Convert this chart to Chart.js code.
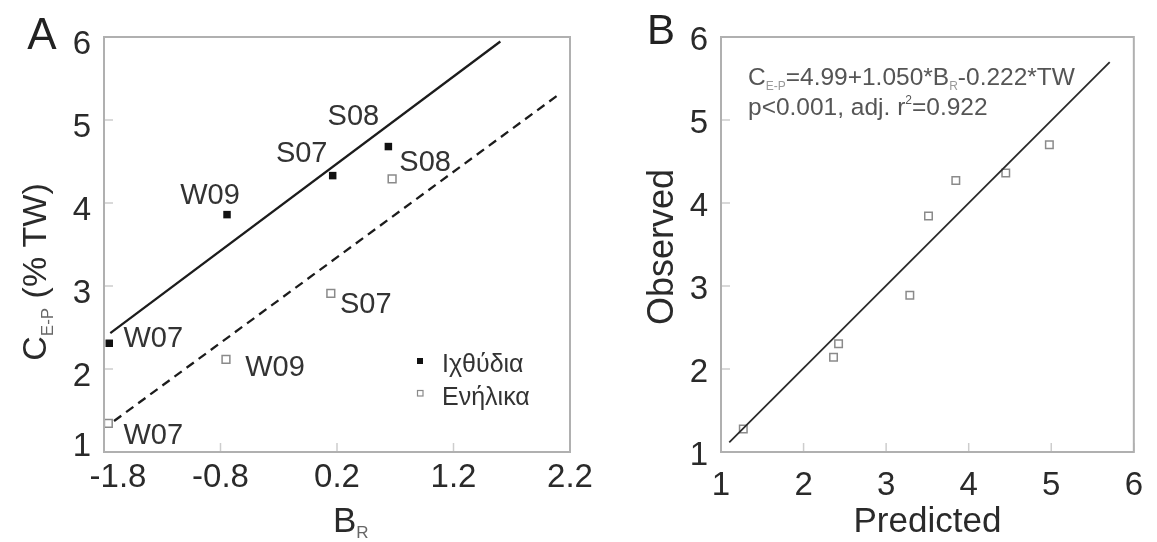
<!DOCTYPE html>
<html>
<head>
<meta charset="utf-8">
<script src="https://cdn.jsdelivr.net/npm/chart.js@4.4.0/dist/chart.umd.min.js"></script>
<style>
  html, body { margin: 0; padding: 0; background: #fff; }
  #wrap { position: relative; width: 1157px; height: 542px; overflow: hidden; }
  canvas { position: absolute; top: 0; }
  #chartA { left: 0; }
  #chartB { left: 600px; }
</style>
</head>
<body>
<div id="wrap">
  <canvas id="chartA" width="600" height="542"></canvas>
  <canvas id="chartB" width="557" height="542"></canvas>
</div>
<script>
// --- data ---
const seasons = ['W07', 'W09', 'S07', 'S08'];

// panel A: C(E-P) against B(R)
const larvaeBR = [-1.755, -0.744, 0.163, 0.641];
const larvaeC = [2.31, 3.86, 4.33, 4.68];
const adultBR = [-1.763, -0.753, 0.147, 0.673];
const adultC = [1.346, 2.117, 2.91, 4.29];
const larvaeFitBR = [-1.746, 1.602];
const larvaeFitC = [2.432, 5.946];
const adultFitBR = [-1.714, 2.12];
const adultFitC = [1.373, 5.324];
const legendNames = ['Ιχθύδια', 'Ενήλικα'];
const xTicksA = [-1.8, -0.8, 0.2, 1.2, 2.2];
const yTicksA = [1, 2, 3, 4, 5, 6];

// panel B: observed against predicted
const predicted = [1.27, 2.363, 2.424, 3.287, 3.513, 3.844, 4.449, 4.977];
const observed = [1.278, 2.141, 2.303, 2.888, 3.842, 4.27, 4.361, 4.701];
const fitPredicted = [1.10, 5.708];
const fitObserved = [1.116, 5.697];
const xTicksB = [1, 2, 3, 4, 5, 6];
const yTicksB = [1, 2, 3, 4, 5, 6];

const FONT = '"Liberation Sans", Arial, sans-serif';
const TEXT = '#2a2a2a';

function pts(xs, ys) {
    return xs.map((x, i) => ({ x: x, y: ys[i] }));
}

// draws a run of text pieces (for subscripts / superscripts), centred or left aligned
function drawRich(ctx, parts, x, y, align) {
    let w = 0;
    parts.forEach(p => {
        ctx.font = p.size + 'px ' + FONT;
        p.w = ctx.measureText(p.t).width;
        w += p.w;
    });
    let cx = align === 'center' ? x - w / 2 : x;
    ctx.textAlign = 'left';
    ctx.textBaseline = 'alphabetic';
    parts.forEach(p => {
        ctx.font = p.size + 'px ' + FONT;
        ctx.fillStyle = p.color || TEXT;
        ctx.fillText(p.t, cx, y + (p.dy || 0));
        cx += p.w;
    });
}

function frame(chart, xTicks, yTicks) {
    const { ctx, chartArea: a, scales: { x, y } } = chart;
    ctx.save();
    ctx.strokeStyle = '#cdcdcd';
    ctx.lineWidth = 1.5;
    xTicks.forEach(v => {
        const px = x.getPixelForValue(v);
        ctx.beginPath(); ctx.moveTo(px, a.bottom); ctx.lineTo(px, a.bottom - 9); ctx.stroke();
    });
    yTicks.forEach(v => {
        const py = y.getPixelForValue(v);
        ctx.beginPath(); ctx.moveTo(a.left, py); ctx.lineTo(a.left + 9, py); ctx.stroke();
    });
    ctx.strokeStyle = '#b0b0b0';
    ctx.lineWidth = 2;
    ctx.strokeRect(a.left, a.top, a.right - a.left, a.bottom - a.top);
    ctx.restore();
}

function scaleOpts(min, max, tickVals, fmt, isX, size, pad, offset, show) {
    return {
        type: 'linear',
        min: min,
        max: max,
        grid: { display: false, drawTicks: false },
        border: { display: false },
        afterBuildTicks: s => { s.ticks = tickVals.map(v => ({ value: v })); },
        afterFit: s => { if (isX) s.height = size; else s.width = size; },
        ticks: {
            display: show,
            autoSkip: false,
            maxRotation: 0,
            color: TEXT,
            font: { family: FONT, size: 33 },
            padding: pad,
            labelOffset: offset,
            callback: v => fmt(v)
        }
    };
}

// === PANEL A ===
const labelOffsetsLarvae = [[44, -4], [-17, -19], [-31, -22], [-35, -30]];
const labelOffsetsAdult = [[45, 13], [49, 9], [35, 12], [33, -16]];

const decorA = {
    id: 'decorA',
    afterDraw(chart) {
        const { ctx, chartArea: a, scales: { x, y } } = chart;
        frame(chart, xTicksA, yTicksA);
        ctx.save();
        // tick labels (corner labels nudged apart like the original)
        ctx.font = '33px ' + FONT;
        ctx.fillStyle = TEXT;
        ctx.textBaseline = 'middle';
        ctx.textAlign = 'center';
        xTicksA.forEach((v, i) => {
            ctx.fillText(v.toFixed(1), x.getPixelForValue(v) + (i === 0 ? 14 : 0), a.bottom + 26);
        });
        ctx.textAlign = 'right';
        yTicksA.forEach((v, i) => {
            ctx.fillText(String(v), a.left - 13, y.getPixelForValue(v) + (i === 0 ? -5 : 8));
        });
        // point labels
        ctx.font = '29px ' + FONT;
        ctx.fillStyle = '#333';
        ctx.textAlign = 'center';
        seasons.forEach((s, i) => {
            const o = labelOffsetsLarvae[i];
            ctx.fillText(s, x.getPixelForValue(larvaeBR[i]) + o[0], y.getPixelForValue(larvaeC[i]) + o[1]);
            const q = labelOffsetsAdult[i];
            ctx.fillText(s, x.getPixelForValue(adultBR[i]) + q[0], y.getPixelForValue(adultC[i]) + q[1]);
        });
        // legend
        ctx.fillStyle = '#111';
        ctx.fillRect(417, 358, 6, 6);
        ctx.strokeStyle = '#8a8a8a';
        ctx.lineWidth = 1.2;
        ctx.strokeRect(417.5, 390.5, 5.5, 5.5);
        ctx.font = '25px ' + FONT;
        ctx.fillStyle = '#333';
        ctx.textAlign = 'left';
        ctx.fillText(legendNames[0], 442, 365);
        ctx.fillText(legendNames[1], 442, 398);
        // panel letter
        ctx.font = '44px ' + FONT;
        ctx.textAlign = 'center';
        ctx.fillStyle = '#222';
        ctx.fillText('A', 42, 37);
        // axis titles
        drawRich(ctx, [
            { t: 'B', size: 35 },
            { t: 'R', size: 17, dy: 6, color: '#666' }
        ], a.left + 229, 532, 'left');
        ctx.translate(a.left - 70, 272);
        ctx.rotate(-Math.PI / 2);
        drawRich(ctx, [
            { t: 'C', size: 34 },
            { t: 'E-P', size: 17, dy: 7, color: '#666' },
            { t: ' (% TW)', size: 34 }
        ], 0, 12, 'center');
        ctx.restore();
    }
};

new Chart(document.getElementById('chartA'), {
    type: 'scatter',
    data: {
        datasets: [
            {
                data: pts(larvaeFitBR, larvaeFitC),
                showLine: true,
                borderColor: '#1c1c1c',
                borderWidth: 2.3,
                pointRadius: 0
            },
            {
                data: pts(adultFitBR, adultFitC),
                showLine: true,
                borderColor: '#1c1c1c',
                borderWidth: 2.3,
                borderDash: [9, 6],
                pointRadius: 0
            },
            {
                label: legendNames[0],
                data: pts(larvaeBR, larvaeC),
                pointStyle: 'rect',
                pointRadius: 5.3,
                backgroundColor: '#111',
                borderColor: '#111',
                borderWidth: 0
            },
            {
                label: legendNames[1],
                data: pts(adultBR, adultC),
                pointStyle: 'rect',
                pointRadius: 5.5,
                backgroundColor: '#fff',
                borderColor: '#8a8a8a',
                borderWidth: 1.5
            }
        ]
    },
    options: {
        responsive: false,
        animation: false,
        devicePixelRatio: 1,
        layout: { padding: { left: 0, top: 37, right: 30, bottom: 0 } },
        plugins: { legend: { display: false }, tooltip: { enabled: false } },
        scales: {
            x: scaleOpts(-1.8, 2.2, xTicksA, v => v.toFixed(1), true, 90, 10, 0, false),
            y: scaleOpts(1, 6, yTicksA, v => String(v), false, 104, 13, 8, false)
        }
    },
    plugins: [decorA]
});

// === PANEL B ===
const decorB = {
    id: 'decorB',
    afterDraw(chart) {
        const { ctx, chartArea: a } = chart;
        frame(chart, xTicksB, yTicksB);
        ctx.save();
        // regression text
        drawRich(ctx, [
            { t: 'C', size: 24.5, color: '#555' },
            { t: 'E-P', size: 12, dy: 5, color: '#999' },
            { t: '=4.99+1.050*B', size: 24.5, color: '#555' },
            { t: 'R', size: 12, dy: 5, color: '#999' },
            { t: '-0.222*TW', size: 24.5, color: '#555' }
        ], a.left + 27, 85, 'left');
        drawRich(ctx, [
            { t: 'p<0.001, adj. r', size: 24.5, color: '#555' },
            { t: '2', size: 12, dy: -11, color: '#555' },
            { t: '=0.922', size: 24.5, color: '#555' }
        ], a.left + 27, 115, 'left');
        // panel letter
        ctx.font = '42px ' + FONT;
        ctx.textAlign = 'center';
        ctx.textBaseline = 'middle';
        ctx.fillStyle = '#222';
        ctx.fillText('B', 61, 32);
        // axis titles
        drawRich(ctx, [{ t: 'Predicted', size: 35 }], (a.left + a.right) / 2, 532, 'center');
        ctx.translate(a.left - 61, 247);
        ctx.rotate(-Math.PI / 2);
        drawRich(ctx, [{ t: 'Observed', size: 36 }], 0, 13, 'center');
        ctx.restore();
    }
};

new Chart(document.getElementById('chartB'), {
    type: 'scatter',
    data: {
        datasets: [
            {
                data: pts(fitPredicted, fitObserved),
                showLine: true,
                borderColor: '#2a2a2a',
                borderWidth: 1.8,
                pointRadius: 0
            },
            {
                data: pts(predicted, observed),
                pointStyle: 'rect',
                pointRadius: 5.3,
                backgroundColor: 'rgba(255,255,255,0)',
                borderColor: '#8a8a8a',
                borderWidth: 1.5
            }
        ]
    },
    options: {
        responsive: false,
        animation: false,
        devicePixelRatio: 1,
        layout: { padding: { left: 0, top: 37, right: 13, bottom: 0 } },
        plugins: { legend: { display: false }, tooltip: { enabled: false } },
        scales: {
            x: scaleOpts(1, 6, xTicksB, v => String(v), true, 90, 14, 0, true),
            y: scaleOpts(1, 6, yTicksB, v => String(v), false, 121, 13, 4, true)
        }
    },
    plugins: [decorB]
});
</script>
</body>
</html>
